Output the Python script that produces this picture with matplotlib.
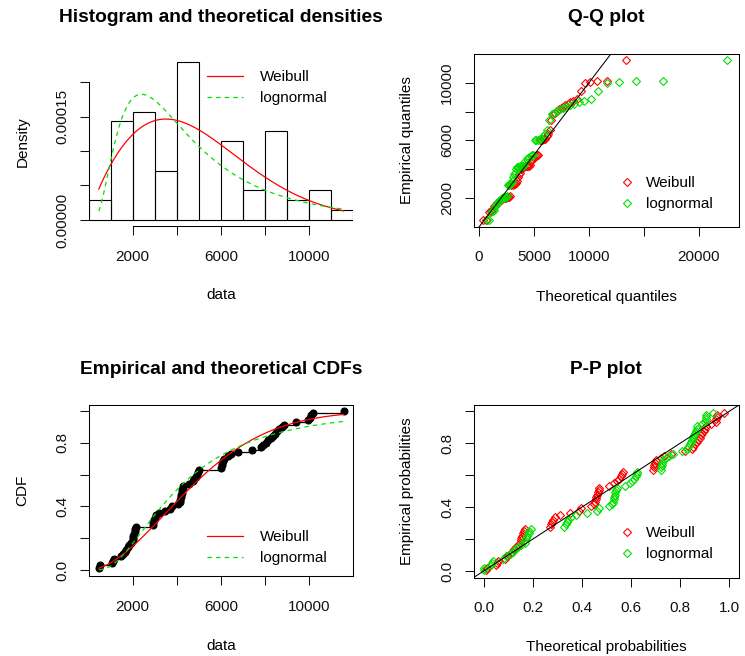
import math
from statistics import NormalDist

import numpy as np
import matplotlib
matplotlib.use("Agg")
import matplotlib.pyplot as plt
from matplotlib.lines import Line2D

plt.rcParams["font.family"] = ["Liberation Sans", "DejaVu Sans"]
plt.rcParams["lines.scale_dashes"] = False

data = np.array([
    465, 510,
    1050, 1100, 1150, 1450, 1550, 1650, 1720, 1780, 1850, 1920,
    2005, 2015, 2030, 2060, 2090, 2110, 2150, 2900, 2930, 2960, 2990,
    3050, 3170, 3450, 3700, 3760,
    4050, 4130, 4160, 4180, 4200, 4220, 4240, 4260, 4280,
    4560, 4720, 4800, 4860, 4920, 4960, 4990,
    6010, 6030, 6060, 6090, 6120, 6300, 6450, 6750,
    7400, 7800, 7900,
    8050, 8150, 8250, 8350, 8450, 8550, 8650, 8750, 8850,
    9400, 9950,
    10050, 10100, 10150,
    11550,
], dtype=float)
hist_breaks = np.arange(0, 13000, 1000)

# fitted parameters
weib_shape, weib_scale = 1.8, 5500.0
lnorm_meanlog, lnorm_sdlog = 8.286, 0.71
fit_names = ["Weibull", "lognormal"]
fit_colors = ["#ff0000", "#00e000"]
fit_styles = ["-", (0, (3.2, 3.0))]

W, H = 745, 656
ND = NormalDist()


def weib_pdf(x):
    z = x / weib_scale
    return weib_shape / weib_scale * z ** (weib_shape - 1) * np.exp(-z ** weib_shape)


def weib_cdf(x):
    return 1 - np.exp(-(x / weib_scale) ** weib_shape)


def weib_q(p):
    return weib_scale * (-np.log(1 - p)) ** (1 / weib_shape)


def lnorm_pdf(x):
    z = (np.log(x) - lnorm_meanlog) / lnorm_sdlog
    return np.exp(-0.5 * z * z) / (x * lnorm_sdlog * math.sqrt(2 * math.pi))


def lnorm_cdf(x):
    return np.array([ND.cdf((math.log(v) - lnorm_meanlog) / lnorm_sdlog) for v in x])


def lnorm_q(p):
    return np.array([math.exp(lnorm_meanlog + lnorm_sdlog * ND.inv_cdf(v)) for v in p])


def px_axes(fig, l, t, r, b):
    return fig.add_axes([l / W, 1 - b / H, (r - l) / W, (b - t) / H])


def style(ax, xt, xl, yt, yl, box=True):
    ax.set_xticks(xt)
    ax.set_xticklabels(xl)
    ax.set_yticks(yt)
    ax.set_yticklabels(yl)
    ax.tick_params(direction="out", length=6.8, width=0.75, labelsize=11, colors="#111")
    ax.tick_params(axis="x", pad=10.2)
    ax.tick_params(axis="y", pad=7.4, labelrotation=90)
    for lb in ax.get_yticklabels():
        lb.set_va("center")
    for s in ax.spines.values():
        s.set_linewidth(0.75)
    if not box:
        ax.spines["top"].set_visible(False)
        ax.spines["right"].set_visible(False)
        ax.spines["left"].set_bounds(yt[0], yt[-1])
        ax.spines["bottom"].set_bounds(xt[0], xt[-1])


def labels(ax, title, xlab, ylab, ty):
    ax.set_xlabel(xlab, fontsize=11)
    ax.set_ylabel(ylab, fontsize=11)
    ax.xaxis.set_label_coords(0.5, -0.365)
    ax.yaxis.set_label_coords(-0.225, 0.5)
    bb = ax.get_position()
    ax.figure.text((bb.x0 + bb.x1) / 2, 1 - ty / H, title, ha="center", va="center",
                   fontsize=13.8, fontweight="bold")


def line_legend(ax, x, y):
    hs = [Line2D([], [], color=c, ls=s, lw=0.9) for c, s in zip(fit_colors, fit_styles)]
    ax.legend(hs, fit_names, loc="upper left", bbox_to_anchor=(x / W, 1 - y / H),
              bbox_transform=ax.figure.transFigure, frameon=False, fontsize=11,
              handlelength=2.36, handletextpad=1.1, labelspacing=0.45,
              borderpad=0, borderaxespad=0)


def pt_legend(ax, x, y):
    hs = [Line2D([], [], ls="none", marker="D", mfc="none", mec=c, ms=3.6, mew=0.8)
          for c in fit_colors]
    ax.legend(hs, fit_names, loc="upper left", bbox_to_anchor=(x / W, 1 - y / H),
              bbox_transform=ax.figure.transFigure, frameon=False, fontsize=11,
              handlelength=1.0, handletextpad=0.75, labelspacing=0.45,
              borderpad=0, borderaxespad=0)


n = len(data)
ecdf_y = np.arange(1, n + 1) / n
pp = (np.arange(1, n + 1) - 0.5) / n
rng = data.max() - data.min()
xlim_data = (data.min() - 0.04 * rng, data.max() + 0.04 * rng)
xs = np.linspace(data.min(), data.max(), 201)

fig = plt.figure(figsize=(W / 100, H / 100), dpi=100)

# histogram + densities
ax = px_axes(fig, 89.0, 56.0, 353.3, 226.3)
dens, _ = np.histogram(data, bins=hist_breaks, density=True)
ax.hist(data, bins=hist_breaks, density=True, fill=False, edgecolor="black", linewidth=0.8)
ax.plot(xs, weib_pdf(xs), color=fit_colors[0], ls=fit_styles[0], lw=0.9)
ax.plot(xs, lnorm_pdf(xs), color=fit_colors[1], ls=fit_styles[1], lw=0.9)
ax.set_xlim(*xlim_data)
ax.set_ylim(-0.04 * dens.max(), 1.04 * dens.max())
style(ax, [2000, 4000, 6000, 8000, 10000], ["2000", "", "6000", "", "10000"],
      [0, 5e-5, 1e-4, 1.5e-4, 2e-4], ["0.00000", "", "", "0.00015", ""], box=False)
labels(ax, "Histogram and theoretical densities", "data", "Density", 18)
line_legend(ax, 207, 70)

# Q-Q plot
ax = px_axes(fig, 473.7, 54.0, 739.0, 226.7)
ax.plot(weib_q(pp), data, ls="none", marker="D", mfc="none", mec=fit_colors[0], ms=3.6, mew=0.8)
ax.plot(lnorm_q(pp), data, ls="none", marker="D", mfc="none", mec=fit_colors[1], ms=3.6, mew=0.8)
ax.axline((0, 0), slope=1, color="black", lw=0.75)
ax.set_xlim(-480, 23650)
ax.set_ylim(*xlim_data)
style(ax, [0, 5000, 10000, 15000, 20000], ["0", "5000", "10000", "", "20000"],
      [2000, 4000, 6000, 8000, 10000], ["2000", "", "6000", "", "10000"])
labels(ax, "Q-Q plot", "Theoretical quantiles", "Empirical quantiles", 18)
pt_legend(ax, 619.5, 176)

# empirical and theoretical CDFs
ax = px_axes(fig, 89.0, 404.5, 353.3, 576.4)
ax.hlines(ecdf_y[:-1], data[:-1], data[1:], colors="black", lw=0.9)
ax.plot(data, ecdf_y, "o", color="black", ms=4.8)
ax.plot(xs, weib_cdf(xs), color=fit_colors[0], ls=fit_styles[0], lw=0.9)
ax.plot(xs, lnorm_cdf(xs), color=fit_colors[1], ls=fit_styles[1], lw=0.9)
ax.set_xlim(*xlim_data)
ax.set_ylim(-0.04, 1.04)
style(ax, [2000, 4000, 6000, 8000, 10000], ["2000", "", "6000", "", "10000"],
      [0, 0.2, 0.4, 0.6, 0.8, 1.0], ["0.0", "", "0.4", "", "0.8", ""])
labels(ax, "Empirical and theoretical CDFs", "data", "CDF", 369)
line_legend(ax, 207, 530)

# P-P plot
ax = px_axes(fig, 473.7, 405.0, 739.0, 577.5)
ax.plot(weib_cdf(data), pp, ls="none", marker="D", mfc="none", mec=fit_colors[0], ms=3.6, mew=0.8)
ax.plot(lnorm_cdf(data), pp, ls="none", marker="D", mfc="none", mec=fit_colors[1], ms=3.6, mew=0.8)
ax.axline((0, 0), slope=1, color="black", lw=0.75)
ax.set_xlim(-0.04, 1.04)
ax.set_ylim(-0.04, 1.04)
style(ax, [0, 0.2, 0.4, 0.6, 0.8, 1.0], ["0.0", "0.2", "0.4", "0.6", "0.8", "1.0"],
      [0, 0.2, 0.4, 0.6, 0.8, 1.0], ["0.0", "", "0.4", "", "0.8", ""])
labels(ax, "P-P plot", "Theoretical probabilities", "Empirical probabilities", 369)
pt_legend(ax, 619.5, 526)

fig.savefig("out.png", dpi=100)
